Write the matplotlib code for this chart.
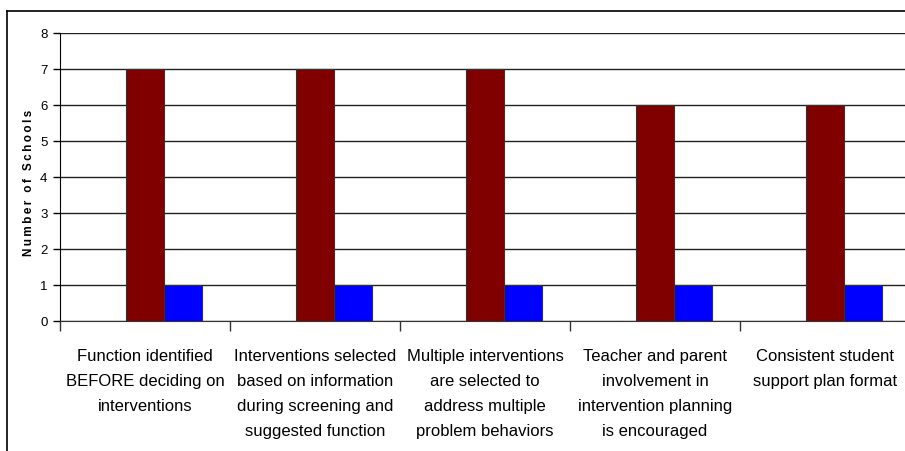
import matplotlib.pyplot as plt
import numpy as np

categories = [
    "Function identified\nBEFORE deciding on\ninterventions",
    "Interventions selected\nbased on information\nduring screening and\nsuggested function",
    "Multiple interventions\nare selected to\naddress multiple\nproblem behaviors",
    "Teacher and parent\ninvolvement in\nintervention planning\nis encouraged",
    "Consistent student\nsupport plan format",
]
series_empty = [0, 0, 0, 0, 0]
series_red = [7, 7, 7, 6, 6]
series_blue = [1, 1, 1, 1, 1]
y_ticks = [0, 1, 2, 3, 4, 5, 6, 7, 8]
y_title = "Number of Schools"

plt.rcParams['font.family'] = ['Liberation Sans', 'DejaVu Sans']

fig = plt.figure(figsize=(9.05, 4.51), dpi=100)
ax = fig.add_axes([60 / 905, 1 - 321 / 451, 850 / 905, 288 / 451])

x = np.arange(len(categories))
w = 0.224
ax.bar(x - w, series_empty, w, color="white", edgecolor="none")
ax.bar(x, series_red, w, color="#800000", edgecolor="#333333", linewidth=0.8, zorder=3)
ax.bar(x + w, series_blue, w, color="#0000ff", edgecolor="#333333", linewidth=0.8, zorder=3)

ax.set_xlim(-0.5, len(categories) - 0.5)
ax.set_ylim(0, 8)
ax.set_yticks(y_ticks)
ax.yaxis.grid(True, color="#222222", linewidth=1)
ax.set_axisbelow(True)

# tick marks at category boundaries, labels drawn under each group center
ax.set_xticks(np.arange(len(categories)) - 0.5)
ax.set_xticklabels([])
ax.tick_params(axis="x", length=7, width=1, color="#333333", direction="out")
for xi, lab in zip(x, categories):
    ax.annotate(lab, xy=(xi, 0), xycoords=("data", "axes fraction"),
                xytext=(0, -20), textcoords="offset points",
                ha="center", va="top", fontsize=12, linespacing=1.84)

ax.tick_params(axis="y", length=5, width=1, labelsize=9.5, pad=4)
ax.set_ylabel("\u2009".join(y_title), fontsize=8.5, fontweight="bold")
ax.yaxis.set_label_coords(-25 / 850, 0.48)

for side in ["top", "right"]:
    ax.spines[side].set_visible(False)
ax.spines["left"].set_color("black")
ax.spines["bottom"].set_color("#333333")

# outer chart frame (left and top edges)
fig.add_artist(plt.Line2D([7 / 905, 7 / 905], [0, 1 - 11 / 451],
                          color="black", linewidth=1.2, transform=fig.transFigure))
fig.add_artist(plt.Line2D([7 / 905, 1], [1 - 11 / 451, 1 - 11 / 451],
                          color="black", linewidth=1.2, transform=fig.transFigure))

fig.savefig("out.png", dpi=100)
